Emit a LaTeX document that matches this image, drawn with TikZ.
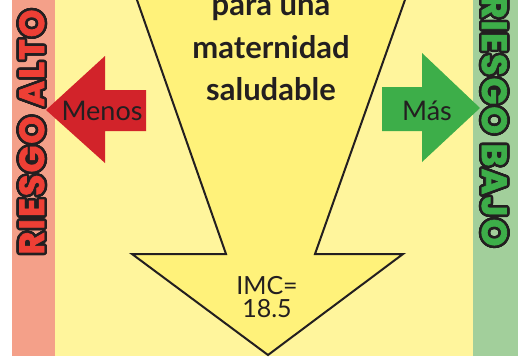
\documentclass[tikz,border=0pt]{standalone}
\usepackage{fontspec}
\setmainfont{Lato}
\newfontfamily\heavyfont{Poppins}[FakeBold=2,LetterSpace=6]
\usepackage{contour}
\contournumber{24}
\definecolor{bgyellow}{HTML}{FFF59C}
\definecolor{arrowyellow}{HTML}{FFF27A}
\definecolor{salmon}{HTML}{F4A089}
\definecolor{stripgreen}{HTML}{A2CF9B}
\definecolor{arrowred}{HTML}{D2232A}
\definecolor{arrowgreen}{HTML}{3DAE49}
\definecolor{textred}{HTML}{EE3F35}
\definecolor{inkdark}{HTML}{231F20}
\tikzset{
  bigtext/.style={font=\fontsize{31}{31}\selectfont\bfseries, text=inkdark, inner sep=0pt, anchor=base},
  sidetext/.style={font=\fontsize{27}{27}\selectfont, text=inkdark, inner sep=0pt, anchor=base},
  imctext/.style={font=\fontsize{25}{25}\selectfont, text=inkdark, inner sep=0pt, anchor=base},
  striptext/.style={font=\heavyfont\bfseries\fontsize{35}{35}\selectfont, inner sep=0pt},
}
\begin{document}
\begin{tikzpicture}[x=1pt,y=-1pt]
\useasboundingbox (0,0) rectangle (518,356);
\clip (0,0) rectangle (518,356);
% backgrounds
\fill[white] (0,0) rectangle (518,356);
\fill[salmon] (12,0) rectangle (55,356);
\fill[bgyellow] (55,0) rectangle (473,356);
\fill[stripgreen] (473,0) rectangle (518,356);
% big down arrow
\filldraw[fill=arrowyellow, draw=inkdark, line width=2pt, line join=miter]
  (130,-20) -- (226,254) -- (132,254) -- (268,355) -- (403,254) -- (315,254) -- (412,-20) -- cycle;
% strip labels
\node[striptext, text=textred, rotate=90] (alto) at (33,132) {\contourlength{2.6pt}\contour{inkdark}{RIESGO ALTO}};
\node[striptext, text=arrowgreen, rotate=-90] (bajo) at (493,121) {\contourlength{2.6pt}\contour{inkdark}{RIESGO BAJO}};
% red arrow
\fill[arrowred] (46,110) -- (105,56) -- (105,90) -- (146,90) -- (146,131) -- (105,131) -- (105,163) -- cycle;
% green arrow
\fill[arrowgreen] (382,87) -- (422,87) -- (422,53) -- (480,108) -- (422,162) -- (422,131) -- (382,131) -- cycle;
% texts
\node[sidetext] (menos) at (102,120) {Menos};
\node[sidetext] (mas) at (427,120) {Más};
\node[bigtext] (l1) at (271,15.5) {para una};
\node[bigtext] (l2) at (271,58) {maternidad};
\node[bigtext] (l3) at (271,100) {saludable};
\node[imctext] (imc) at (267,294) {IMC=};
\node[imctext] (val) at (267,317) {18.5};
\end{tikzpicture}
\end{document}
